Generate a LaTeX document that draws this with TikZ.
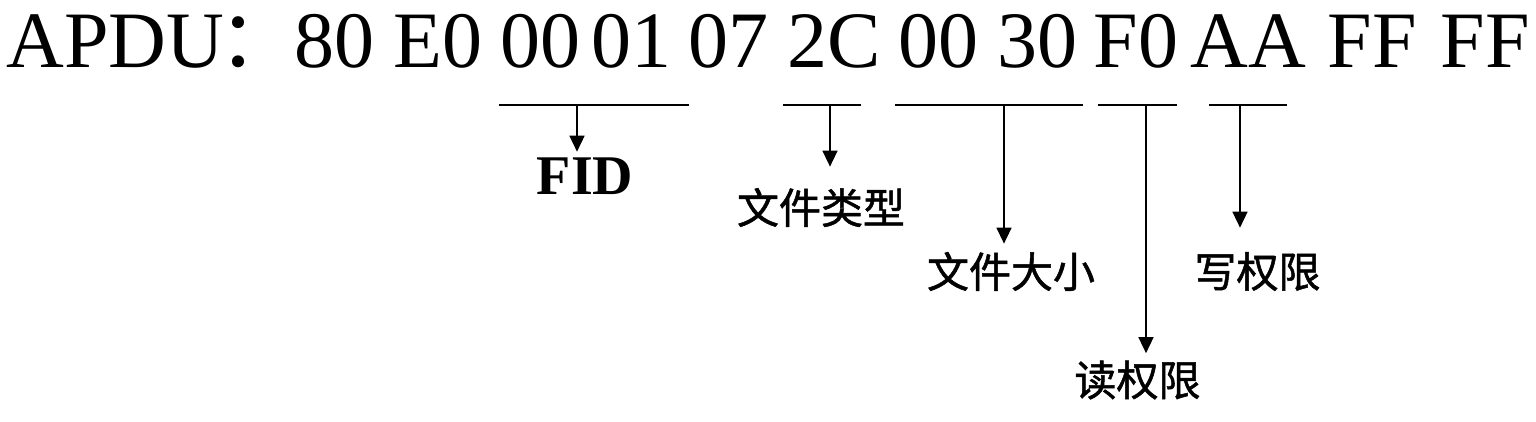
\documentclass[tikz,border=0pt]{standalone}
\usepackage{fontspec}
\setmainfont{Liberation Serif}
\newfontfamily\cjk{Noto Sans CJK SC}
\newfontfamily\cjkfield{Noto Sans CJK SC}[FakeBold=1.2]
\usetikzlibrary{arrows.meta}
\tikzset{
  byte/.style={anchor=base,inner sep=0pt,font=\fontsize{40}{40}\selectfont},
  field/.style={inner sep=0pt,font=\cjkfield\fontsize{21}{21}\selectfont},
  under/.style={line width=1pt},
  pointer/.style={line width=0.75pt,-{Triangle[length=8pt,width=7.5pt]}},
}
\begin{document}
\begin{tikzpicture}[x=0.5pt,y=-0.5pt]
  \useasboundingbox (0,0) rectangle (1536,422);
  % the command bytes
  \node[byte,anchor=base west] (apdu) at (6,68) {APDU};
  \node[byte,font=\cjk\fontsize{40}{40}\selectfont] (colon) at (258,68) {：};
  \node[byte] (b1) at (334,68) {80};
  \node[byte] (b2) at (438,68) {E0};
  \node[byte] (b3) at (540,68) {00};
  \node[byte] (b4) at (631,68) {01};
  \node[byte] (b5) at (728,68) {07};
  \node[byte] (b6) at (834,68) {2C};
  \node[byte] (b7) at (938,68) {00};
  \node[byte] (b8) at (1037,68) {30};
  \node[byte] (b9) at (1136,68) {F0};
  \node[byte] (b10) at (1248,68) {AA};
  \node[byte] (b11) at (1372,68) {FF};
  \node[byte] (b12) at (1485,68) {FF};

  % underlines
  \draw[under] (499,105) -- (689,105);
  \draw[under] (783,105) -- (861,105);
  \draw[under] (895,105) -- (1083,105);
  \draw[under] (1098,105) -- (1177,105);
  \draw[under] (1209,105) -- (1287,105);
  \coordinate (u1) at (577,105);
  \coordinate (u2) at (830,105);
  \coordinate (u3) at (1004,105);
  \coordinate (u4) at (1146,105);
  \coordinate (u5) at (1240,105);

  % fields
  \node[inner sep=0pt,font=\bfseries\fontsize{28}{28}\selectfont] (fid) at (585,176.5) {FID};
  \node[field] (type) at (821,207.5) {文件类型};
  \node[field] (size) at (1011,271.5) {文件大小};
  \node[field] (read) at (1137.5,380) {读权限};
  \node[field] (write) at (1257.5,271.5) {写权限};

  \draw[pointer,shorten >=3pt] (u1) -- (u1 |- fid.north);
  \draw[pointer,shorten >=10.5pt] (u2) -- (u2 |- type.north);
  \draw[pointer,shorten >=4pt] (u3) -- (u3 |- size.north);
  \draw[pointer,shorten >=3.5pt] (u4) -- (u4 |- read.north);
  \draw[pointer,shorten >=12pt] (u5) -- (u5 |- write.north);
\end{tikzpicture}
\end{document}
